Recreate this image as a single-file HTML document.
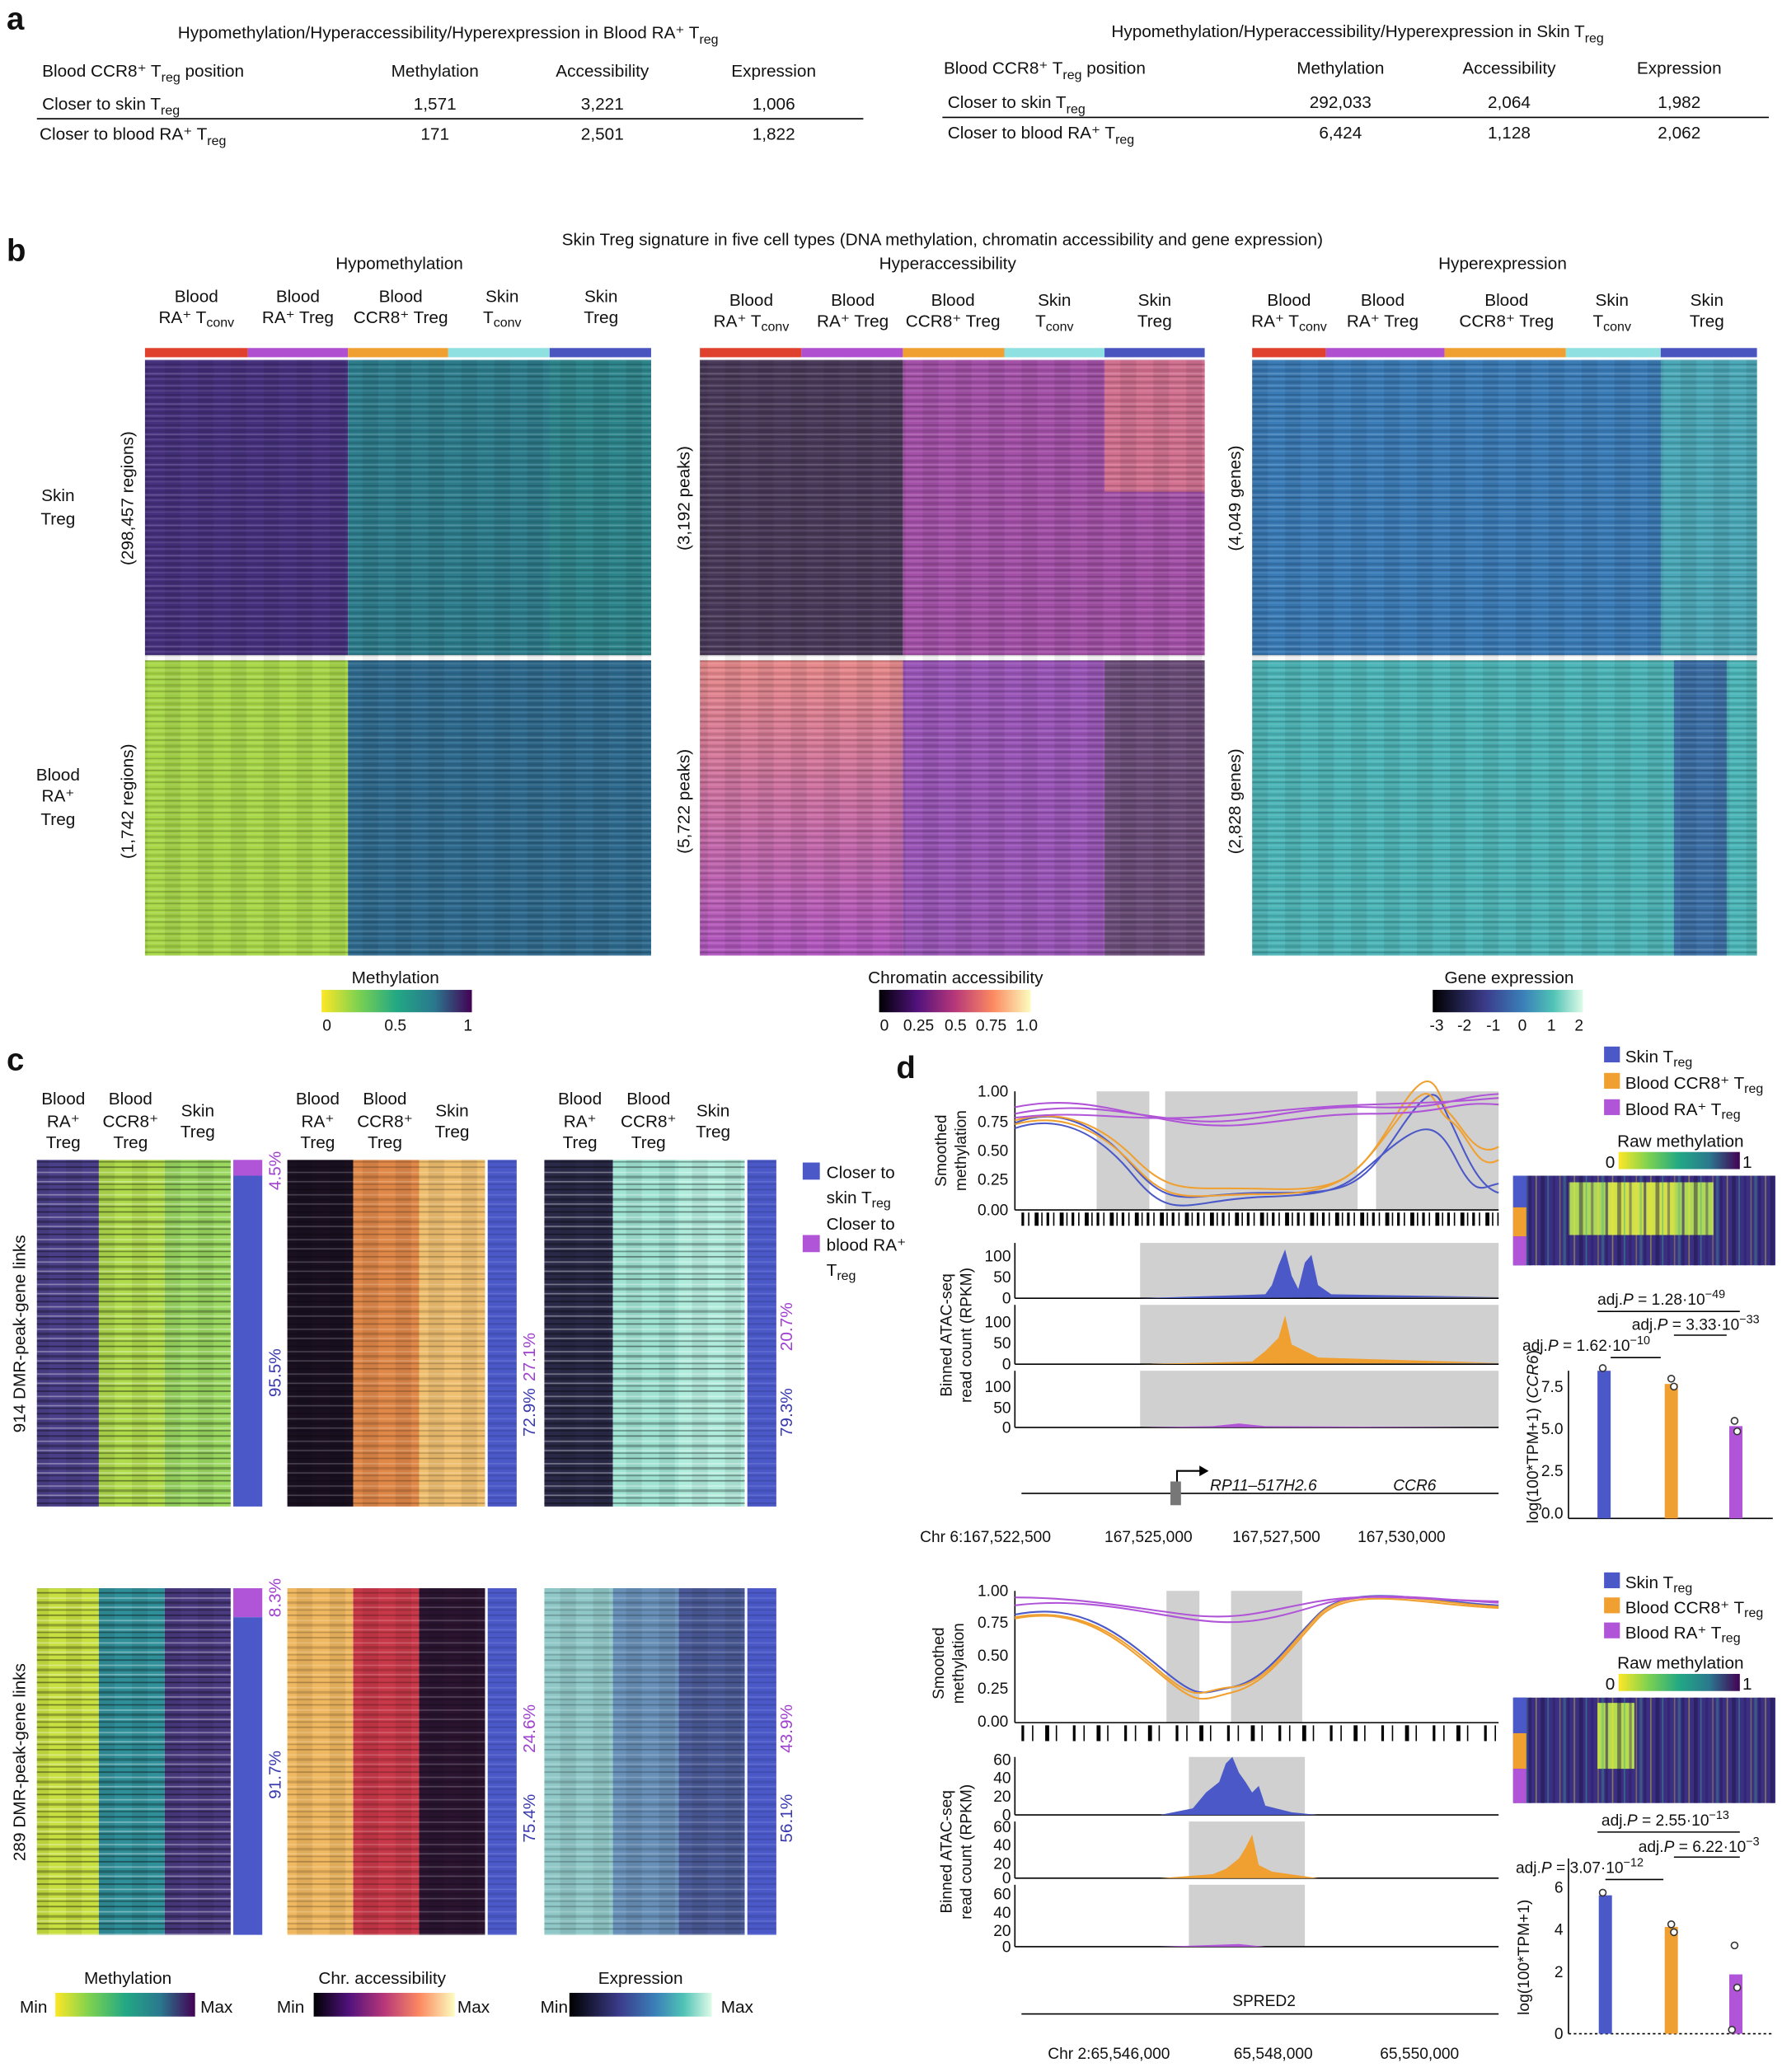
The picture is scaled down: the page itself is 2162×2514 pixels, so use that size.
<!DOCTYPE html>
<html><head><meta charset="utf-8"><style>
html,body{margin:0;padding:0;background:#fff}
svg{display:block}
text{font-family:"Liberation Sans",Arial,sans-serif;fill:#111}
.pu{fill:#a040d0}.bl{fill:#3a3ab0}
</style></head><body>
<svg width="2162" height="2514" viewBox="0 0 1352 1572" xmlns="http://www.w3.org/2000/svg">
<defs>
<pattern id="st" width="40" height="23" patternUnits="userSpaceOnUse">
<rect y="0" width="40" height="1" fill="#000" opacity=".18"/>
<rect y="2" width="40" height="1" fill="#fff" opacity=".12"/>
<rect y="4" width="40" height="2" fill="#000" opacity=".1"/>
<rect y="7" width="40" height="1" fill="#fff" opacity=".18"/>
<rect y="9" width="40" height="1" fill="#000" opacity=".22"/>
<rect y="11" width="40" height="1" fill="#fff" opacity=".1"/>
<rect y="13" width="40" height="2" fill="#000" opacity=".12"/>
<rect y="16" width="40" height="1" fill="#fff" opacity=".15"/>
<rect y="18" width="40" height="1" fill="#000" opacity=".2"/>
<rect y="20" width="40" height="1" fill="#fff" opacity=".1"/>
</pattern>
<pattern id="st2" width="31" height="17" patternUnits="userSpaceOnUse">
<rect y="1" width="31" height="1" fill="#000" opacity=".25"/>
<rect y="5" width="31" height="1" fill="#fff" opacity=".2"/>
<rect y="8" width="31" height="2" fill="#000" opacity=".15"/>
<rect y="12" width="31" height="1" fill="#fff" opacity=".2"/>
<rect y="14" width="31" height="1" fill="#000" opacity=".2"/>
</pattern>
<pattern id="vc" width="25" height="10" patternUnits="userSpaceOnUse">
<rect x="0" width="12" height="10" fill="#000" opacity=".07"/>
</pattern>
<pattern id="vs" width="29" height="10" patternUnits="userSpaceOnUse">
<rect x="0" width="2" height="10" fill="#2a1a60" opacity=".6"/>
<rect x="5" width="1" height="10" fill="#fde725" opacity=".4"/>
<rect x="9" width="3" height="10" fill="#1a1040" opacity=".45"/>
<rect x="14" width="1" height="10" fill="#3aa88a" opacity=".5"/>
<rect x="18" width="2" height="10" fill="#2a1a60" opacity=".4"/>
<rect x="23" width="1" height="10" fill="#fde725" opacity=".3"/>
<rect x="26" width="2" height="10" fill="#3aa88a" opacity=".35"/>
</pattern>
<linearGradient id="gMeth" x1="0" x2="1"><stop offset="0" stop-color="#fde725"/><stop offset=".25" stop-color="#7ad151"/><stop offset=".5" stop-color="#22a884"/><stop offset=".75" stop-color="#2a788e"/><stop offset="1" stop-color="#440154"/></linearGradient>
<linearGradient id="gChr" x1="0" x2="1"><stop offset="0" stop-color="#000004"/><stop offset=".25" stop-color="#51127c"/><stop offset=".5" stop-color="#b73779"/><stop offset=".75" stop-color="#fc8961"/><stop offset="1" stop-color="#fcfdbf"/></linearGradient>
<linearGradient id="gExp" x1="0" x2="1"><stop offset="0" stop-color="#000"/><stop offset=".35" stop-color="#3b3b8a"/><stop offset=".6" stop-color="#3a7fb8"/><stop offset=".8" stop-color="#4fc2b5"/><stop offset="1" stop-color="#dffbe8"/></linearGradient>
<linearGradient id="v1" x1="0" x2="0" y1="0" y2="1"><stop offset="0" stop-color="#e88a8a"/><stop offset="1" stop-color="#b055c0"/></linearGradient>
</defs>

<!-- Panel a -->
<text x="5" y="22" font-size="24" font-weight="bold">a</text>
<g font-size="13">
<text x="340" y="29" text-anchor="middle">Hypomethylation/Hyperaccessibility/Hyperexpression in Blood RA⁺ T<tspan font-size="10" dy="4">reg</tspan></text>
<text x="32" y="58">Blood CCR8⁺ T<tspan font-size="10" dy="4">reg</tspan><tspan dy="-4"> position</tspan></text>
<text x="330" y="58" text-anchor="middle">Methylation</text><text x="457" y="58" text-anchor="middle">Accessibility</text><text x="587" y="58" text-anchor="middle">Expression</text>
<text x="32" y="83">Closer to skin T<tspan font-size="10" dy="4">reg</tspan></text>
<text x="330" y="83" text-anchor="middle">1,571</text><text x="457" y="83" text-anchor="middle">3,221</text><text x="587" y="83" text-anchor="middle">1,006</text>
<line x1="28" y1="90" x2="655" y2="90" stroke="#000"/>
<text x="30" y="106">Closer to blood RA⁺ T<tspan font-size="10" dy="4">reg</tspan></text>
<text x="330" y="106" text-anchor="middle">171</text><text x="457" y="106" text-anchor="middle">2,501</text><text x="587" y="106" text-anchor="middle">1,822</text>

<text x="1030" y="28" text-anchor="middle">Hypomethylation/Hyperaccessibility/Hyperexpression in Skin T<tspan font-size="10" dy="4">reg</tspan></text>
<text x="716" y="56">Blood CCR8⁺ T<tspan font-size="10" dy="4">reg</tspan><tspan dy="-4"> position</tspan></text>
<text x="1017" y="56" text-anchor="middle">Methylation</text><text x="1145" y="56" text-anchor="middle">Accessibility</text><text x="1274" y="56" text-anchor="middle">Expression</text>
<text x="719" y="82">Closer to skin T<tspan font-size="10" dy="4">reg</tspan></text>
<text x="1017" y="82" text-anchor="middle">292,033</text><text x="1145" y="82" text-anchor="middle">2,064</text><text x="1274" y="82" text-anchor="middle">1,982</text>
<line x1="715" y1="89" x2="1342" y2="89" stroke="#000"/>
<text x="719" y="105">Closer to blood RA⁺ T<tspan font-size="10" dy="4">reg</tspan></text>
<text x="1017" y="105" text-anchor="middle">6,424</text><text x="1145" y="105" text-anchor="middle">1,128</text><text x="1274" y="105" text-anchor="middle">2,062</text>
</g>

<!-- Panel b -->
<text x="5" y="198" font-size="24" font-weight="bold">b</text>
<g font-size="13">
<text x="715" y="186" text-anchor="middle">Skin Treg signature in five cell types (DNA methylation, chromatin accessibility and gene expression)</text>
<text x="303" y="204" text-anchor="middle">Hypomethylation</text>
<text x="719" y="204" text-anchor="middle">Hyperaccessibility</text>
<text x="1140" y="204" text-anchor="middle">Hyperexpression</text>
</g>
<g font-size="13" text-anchor="middle">
<text x="149" y="229">Blood</text><text x="149" y="245">RA⁺ T<tspan font-size="10" dy="3">conv</tspan></text>
<text x="226" y="229">Blood</text><text x="226" y="245">RA⁺ Treg</text>
<text x="304" y="229">Blood</text><text x="304" y="245">CCR8⁺ Treg</text>
<text x="381" y="229">Skin</text><text x="381" y="245">T<tspan font-size="10" dy="3">conv</tspan></text>
<text x="456" y="229">Skin</text><text x="456" y="245">Treg</text>
<text x="570" y="232">Blood</text><text x="570" y="248">RA⁺ T<tspan font-size="10" dy="3">conv</tspan></text>
<text x="647" y="232">Blood</text><text x="647" y="248">RA⁺ Treg</text>
<text x="723" y="232">Blood</text><text x="723" y="248">CCR8⁺ Treg</text>
<text x="800" y="232">Skin</text><text x="800" y="248">T<tspan font-size="10" dy="3">conv</tspan></text>
<text x="876" y="232">Skin</text><text x="876" y="248">Treg</text>
<text x="978" y="232">Blood</text><text x="978" y="248">RA⁺ T<tspan font-size="10" dy="3">conv</tspan></text>
<text x="1049" y="232">Blood</text><text x="1049" y="248">RA⁺ Treg</text>
<text x="1143" y="232">Blood</text><text x="1143" y="248">CCR8⁺ Treg</text>
<text x="1223" y="232">Skin</text><text x="1223" y="248">T<tspan font-size="10" dy="3">conv</tspan></text>
<text x="1295" y="232">Skin</text><text x="1295" y="248">Treg</text>
</g>
<g>
<rect x="110" y="264" width="78" height="7" fill="#e0402e"/><rect x="188" y="264" width="76" height="7" fill="#b04fd0"/><rect x="264" y="264" width="76" height="7" fill="#f0a030"/><rect x="340" y="264" width="77" height="7" fill="#8fe0e0"/><rect x="417" y="264" width="77" height="7" fill="#4a55c0"/>
<rect x="531" y="264" width="77" height="7" fill="#e0402e"/><rect x="608" y="264" width="77" height="7" fill="#b04fd0"/><rect x="685" y="264" width="77" height="7" fill="#f0a030"/><rect x="762" y="264" width="76" height="7" fill="#8fe0e0"/><rect x="838" y="264" width="76" height="7" fill="#4a55c0"/>
<rect x="950" y="264" width="56" height="7" fill="#e0402e"/><rect x="1006" y="264" width="90" height="7" fill="#b04fd0"/><rect x="1096" y="264" width="92" height="7" fill="#f0a030"/><rect x="1188" y="264" width="72" height="7" fill="#8fe0e0"/><rect x="1260" y="264" width="73" height="7" fill="#4a55c0"/>
</g>
<rect x="110" y="273" width="154" height="224" fill="#46307e"/>
<rect x="264" y="273" width="230" height="224" fill="#2c7c8c"/>
<rect x="417" y="273" width="77" height="224" fill="#2d8a8a" opacity=".6"/>
<rect x="110" y="501" width="154" height="224" fill="#a8d848"/>
<rect x="264" y="501" width="230" height="224" fill="#2e6a8e"/>
<rect x="110" y="273" width="384" height="452" fill="url(#vc)"/>
<rect x="110" y="273" width="384" height="452" fill="url(#st)"/>
<rect x="531" y="273" width="154" height="224" fill="#4a3a5a"/>
<rect x="685" y="273" width="229" height="224" fill="#a450a8"/>
<rect x="838" y="273" width="76" height="100" fill="#d27090"/>
<rect x="531" y="501" width="154" height="224" fill="url(#v1)"/>
<rect x="685" y="501" width="153" height="224" fill="#9a55b8"/>
<rect x="838" y="501" width="76" height="224" fill="#6a4c78"/>
<rect x="531" y="273" width="383" height="452" fill="url(#vc)"/>
<rect x="531" y="273" width="383" height="452" fill="url(#st)"/>
<rect x="950" y="273" width="383" height="224" fill="#3a7cb8"/>
<rect x="1260" y="273" width="73" height="224" fill="#4aa8b8"/>
<rect x="950" y="501" width="383" height="224" fill="#4cb6b8"/>
<rect x="1270" y="501" width="40" height="224" fill="#3c70a8"/>
<rect x="950" y="273" width="383" height="452" fill="url(#vc)"/>
<rect x="950" y="273" width="383" height="452" fill="url(#st)"/>
<g font-size="13">
<text x="44" y="380" text-anchor="middle">Skin</text><text x="44" y="398" text-anchor="middle">Treg</text>
<text x="44" y="592" text-anchor="middle">Blood</text><text x="44" y="608" text-anchor="middle">RA⁺</text><text x="44" y="626" text-anchor="middle">Treg</text>
<text transform="translate(101,378) rotate(-90)" text-anchor="middle">(298,457 regions)</text>
<text transform="translate(101,608) rotate(-90)" text-anchor="middle">(1,742 regions)</text>
<text transform="translate(523,378) rotate(-90)" text-anchor="middle">(3,192 peaks)</text>
<text transform="translate(523,608) rotate(-90)" text-anchor="middle">(5,722 peaks)</text>
<text transform="translate(941,378) rotate(-90)" text-anchor="middle">(4,049 genes)</text>
<text transform="translate(941,608) rotate(-90)" text-anchor="middle">(2,828 genes)</text>
<text x="300" y="746" text-anchor="middle">Methylation</text>
<text x="725" y="746" text-anchor="middle">Chromatin accessibility</text>
<text x="1145" y="746" text-anchor="middle">Gene expression</text>
</g>
<rect x="244" y="751" width="114" height="17" fill="url(#gMeth)"/>
<rect x="667" y="751" width="115" height="17" fill="url(#gChr)"/>
<rect x="1087" y="751" width="114" height="17" fill="url(#gExp)"/>
<g font-size="12" text-anchor="middle">
<text x="248" y="782">0</text><text x="300" y="782">0.5</text><text x="355" y="782">1</text>
<text x="671" y="782">0</text><text x="697" y="782">0.25</text><text x="725" y="782">0.5</text><text x="752" y="782">0.75</text><text x="779" y="782">1.0</text>
<text x="1090" y="782">-3</text><text x="1111" y="782">-2</text><text x="1133" y="782">-1</text><text x="1155" y="782">0</text><text x="1177" y="782">1</text><text x="1198" y="782">2</text>
</g>

<!-- Panel c -->
<text x="5" y="812" font-size="24" font-weight="bold">c</text>
<g font-size="13" text-anchor="middle">
<text x="48" y="838">Blood</text><text x="48" y="855">RA⁺</text><text x="48" y="871">Treg</text>
<text x="99" y="838">Blood</text><text x="99" y="855">CCR8⁺</text><text x="99" y="871">Treg</text>
<text x="150" y="847">Skin</text><text x="150" y="863">Treg</text>
<text x="241" y="838">Blood</text><text x="241" y="855">RA⁺</text><text x="241" y="871">Treg</text>
<text x="292" y="838">Blood</text><text x="292" y="855">CCR8⁺</text><text x="292" y="871">Treg</text>
<text x="343" y="847">Skin</text><text x="343" y="863">Treg</text>
<text x="440" y="838">Blood</text><text x="440" y="855">RA⁺</text><text x="440" y="871">Treg</text>
<text x="492" y="838">Blood</text><text x="492" y="855">CCR8⁺</text><text x="492" y="871">Treg</text>
<text x="541" y="847">Skin</text><text x="541" y="863">Treg</text>
</g>
<rect x="28" y="880" width="47" height="263" fill="#4a3f88"/>
<rect x="75" y="880" width="50" height="263" fill="#b0dc4c"/>
<rect x="125" y="880" width="50" height="263" fill="#9ad860"/>
<rect x="218" y="880" width="50" height="263" fill="#1a1020"/>
<rect x="268" y="880" width="50" height="263" fill="#e08848"/>
<rect x="318" y="880" width="50" height="263" fill="#f0c070"/>
<rect x="413" y="880" width="52" height="263" fill="#2a2a48"/>
<rect x="465" y="880" width="50" height="263" fill="#a0e4d4"/>
<rect x="515" y="880" width="50" height="263" fill="#b0ecdc"/>
<rect x="28" y="1205" width="47" height="263" fill="#c8e040"/>
<rect x="75" y="1205" width="50" height="263" fill="#30909a"/>
<rect x="125" y="1205" width="50" height="263" fill="#4a3a80"/>
<rect x="218" y="1205" width="50" height="263" fill="#f0b860"/>
<rect x="268" y="1205" width="50" height="263" fill="#c83848"/>
<rect x="318" y="1205" width="50" height="263" fill="#2a1430"/>
<rect x="413" y="1205" width="52" height="263" fill="#90c8c8"/>
<rect x="465" y="1205" width="50" height="263" fill="#6890b8"/>
<rect x="515" y="1205" width="50" height="263" fill="#4a5a98"/>
<g fill="url(#vc)">
<rect x="28" y="880" width="147" height="263"/><rect x="218" y="880" width="150" height="263"/><rect x="413" y="880" width="152" height="263"/>
<rect x="28" y="1205" width="147" height="263"/><rect x="218" y="1205" width="150" height="263"/><rect x="413" y="1205" width="152" height="263"/>
</g>
<g fill="url(#st2)">
<rect x="28" y="880" width="147" height="263"/><rect x="218" y="880" width="150" height="263"/><rect x="413" y="880" width="152" height="263"/>
<rect x="28" y="1205" width="147" height="263"/><rect x="218" y="1205" width="150" height="263"/><rect x="413" y="1205" width="152" height="263"/>
<rect x="28" y="880" width="147" height="263"/><rect x="28" y="1205" width="147" height="263"/><rect x="413" y="880" width="152" height="263"/>
</g>
<rect x="177" y="880" width="22" height="12" fill="#b055d8"/><rect x="177" y="892" width="22" height="251" fill="#4a58c8"/>
<rect x="370" y="880" width="22" height="263" fill="#4a58c8"/>
<rect x="567" y="880" width="22" height="263" fill="#4a58c8"/>
<rect x="370" y="880" width="22" height="263" fill="url(#st2)" opacity=".6"/>
<rect x="567" y="880" width="22" height="263" fill="url(#st2)" opacity=".6"/>
<rect x="177" y="1205" width="22" height="22" fill="#b055d8"/><rect x="177" y="1227" width="22" height="241" fill="#4a58c8"/>
<rect x="370" y="1205" width="22" height="263" fill="#4a58c8"/>
<rect x="567" y="1205" width="22" height="263" fill="#4a58c8"/>
<rect x="370" y="1205" width="22" height="263" fill="url(#st2)" opacity=".6"/>
<rect x="567" y="1205" width="22" height="263" fill="url(#st2)" opacity=".6"/>
<g font-size="13">
<text class="pu" transform="translate(213,903) rotate(-90)">4.5%</text>
<text class="bl" transform="translate(213,1060) rotate(-90)">95.5%</text>
<text class="pu" transform="translate(406,1048) rotate(-90)">27.1%</text>
<text class="bl" transform="translate(406,1090) rotate(-90)">72.9%</text>
<text class="pu" transform="translate(601,1025) rotate(-90)">20.7%</text>
<text class="bl" transform="translate(601,1090) rotate(-90)">79.3%</text>
<text class="pu" transform="translate(213,1227) rotate(-90)">8.3%</text>
<text class="bl" transform="translate(213,1365) rotate(-90)">91.7%</text>
<text class="pu" transform="translate(406,1330) rotate(-90)">24.6%</text>
<text class="bl" transform="translate(406,1398) rotate(-90)">75.4%</text>
<text class="pu" transform="translate(601,1330) rotate(-90)">43.9%</text>
<text class="bl" transform="translate(601,1398) rotate(-90)">56.1%</text>
<text transform="translate(19,1012) rotate(-90)" text-anchor="middle">914 DMR-peak-gene links</text>
<text transform="translate(19,1337) rotate(-90)" text-anchor="middle">289 DMR-peak-gene links</text>
</g>
<rect x="609" y="882" width="13" height="13" fill="#4a58c8"/>
<rect x="609" y="937" width="13" height="13" fill="#b055d8"/>
<g font-size="13"><text x="627" y="894">Closer to</text><text x="627" y="913">skin T<tspan font-size="10" dy="3">reg</tspan></text>
<text x="627" y="933">Closer to</text><text x="627" y="949">blood RA⁺</text><text x="627" y="968">T<tspan font-size="10" dy="3">reg</tspan></text>
<text x="97" y="1505" text-anchor="middle">Methylation</text><text x="290" y="1505" text-anchor="middle">Chr. accessibility</text><text x="486" y="1505" text-anchor="middle">Expression</text>
<text x="15" y="1527">Min</text><text x="152" y="1527">Max</text>
<text x="210" y="1527">Min</text><text x="347" y="1527">Max</text>
<text x="410" y="1527">Min</text><text x="547" y="1527">Max</text></g>
<rect x="42" y="1512" width="106" height="18" fill="url(#gMeth)"/>
<rect x="238" y="1512" width="107" height="18" fill="url(#gChr)"/>
<rect x="432" y="1512" width="108" height="18" fill="url(#gExp)"/>

<!-- Panel d -->
<text x="680" y="818" font-size="24" font-weight="bold">d</text>
<g>
<rect x="832" y="828" width="40" height="90" fill="#d0d0d0"/><rect x="884" y="828" width="146" height="90" fill="#d0d0d0"/><rect x="1044" y="828" width="93" height="90" fill="#d0d0d0"/>
<line x1="770" y1="828" x2="770" y2="918" stroke="#000"/><line x1="770" y1="918" x2="1137" y2="918" stroke="#000"/>
<g font-size="12" text-anchor="end"><text x="765" y="832">1.00</text><text x="765" y="855">0.75</text><text x="765" y="877">0.50</text><text x="765" y="899">0.25</text><text x="765" y="922">0.00</text></g>
<text transform="translate(718,873) rotate(-90)" font-size="12" text-anchor="middle">Smoothed</text>
<text transform="translate(733,873) rotate(-90)" font-size="12" text-anchor="middle">methylation</text>
<g fill="none" stroke-width="1.3">
<path d="M770 852 C800 840 830 850 860 885 S900 905 960 905 S1030 905 1060 860 S1090 830 1100 850 S1120 900 1137 905" stroke="#4a58c8"/>
<path d="M770 856 C800 846 830 855 860 892 S900 910 960 908 S1020 900 1050 875 S1090 850 1105 880 S1125 900 1137 898" stroke="#4a58c8"/>
<path d="M770 850 C800 842 830 848 860 878 S900 900 960 902 S1030 895 1060 845 S1090 835 1100 845 S1120 880 1137 870" stroke="#f0a030"/>
<path d="M770 853 C800 845 830 852 860 884 S900 906 960 906 S1030 890 1060 850 S1085 840 1100 850 S1120 890 1137 880" stroke="#f0a030"/>
<path d="M770 845 C820 835 850 845 900 850 S980 838 1040 840 S1100 832 1137 830" stroke="#b055d8"/>
<path d="M770 840 C820 830 850 845 900 852 S980 845 1040 845 S1100 835 1137 838" stroke="#b055d8"/>
<path d="M770 848 C820 842 850 850 900 848 S980 840 1040 838 S1100 836 1137 833" stroke="#b055d8"/>
</g>
<line x1="775" y1="925" x2="1137" y2="925" stroke="#000" stroke-width="10" stroke-dasharray="2 3 1 4 3 2 1 3"/>
<rect x="865" y="943" width="272" height="42" fill="#d0d0d0"/><rect x="865" y="990" width="272" height="45" fill="#d0d0d0"/><rect x="865" y="1040" width="272" height="43" fill="#d0d0d0"/>
<g stroke="#000"><line x1="770" y1="943" x2="770" y2="985"/><line x1="770" y1="985" x2="1137" y2="985"/><line x1="770" y1="990" x2="770" y2="1035"/><line x1="770" y1="1035" x2="1137" y2="1035"/><line x1="770" y1="1040" x2="770" y2="1083"/><line x1="770" y1="1083" x2="1137" y2="1083"/></g>
<path d="M865 985 L960 982 965 975 970 960 975 948 980 968 985 978 990 958 995 952 1000 975 1010 982 1137 984 Z" fill="#4a58c8"/>
<path d="M865 1035 L950 1033 960 1025 970 1015 975 998 980 1020 990 1025 1000 1030 1137 1034 Z" fill="#f0a030"/>
<path d="M865 1083 L920 1082 940 1080 960 1082 1137 1083 Z" fill="#b055d8"/>
<g font-size="12" text-anchor="end"><text x="767" y="957">100</text><text x="767" y="973">50</text><text x="767" y="989">0</text><text x="767" y="1007">100</text><text x="767" y="1023">50</text><text x="767" y="1039">0</text><text x="767" y="1056">100</text><text x="767" y="1072">50</text><text x="767" y="1087">0</text></g>
<text transform="translate(722,1013) rotate(-90)" font-size="12" text-anchor="middle">Binned ATAC-seq</text>
<text transform="translate(737,1013) rotate(-90)" font-size="12" text-anchor="middle">read count (RPKM)</text>
<line x1="775" y1="1133" x2="1137" y2="1133" stroke="#000"/>
<rect x="888" y="1124" width="8" height="18" fill="#777"/>
<path d="M893 1124 V1116 H912" stroke="#000" fill="none" stroke-width="1.3"/><path d="M910 1112 L917 1116 910 1120Z"/>
<text x="918" y="1131" font-size="12" font-style="italic">RP11–517H2.6</text><text x="1057" y="1131" font-size="12" font-style="italic">CCR6</text>
<g font-size="12"><text x="698" y="1170">Chr 6:167,522,500</text><text x="838" y="1170">167,525,000</text><text x="935" y="1170">167,527,500</text><text x="1030" y="1170">167,530,000</text></g>
</g>
<g font-size="13">
<rect x="1217" y="794" width="12" height="12" fill="#4a58c8"/><text x="1233" y="806">Skin T<tspan font-size="10" dy="3">reg</tspan></text>
<rect x="1217" y="814" width="12" height="12" fill="#f0a030"/><text x="1233" y="826">Blood CCR8⁺ T<tspan font-size="10" dy="3">reg</tspan></text>
<rect x="1217" y="834" width="12" height="12" fill="#b055d8"/><text x="1233" y="846">Blood RA⁺ T<tspan font-size="10" dy="3">reg</tspan></text>
<text x="1275" y="870" text-anchor="middle">Raw methylation</text>
<text x="1218" y="886">0</text><text x="1322" y="886">1</text>
</g>
<rect x="1228" y="874" width="92" height="13" fill="url(#gMeth)"/>
<rect x="1148" y="892" width="199" height="68" fill="#3a2f82"/>
<rect x="1190" y="897" width="110" height="40" fill="#b0d858"/>
<rect x="1220" y="897" width="50" height="40" fill="#e8e840" opacity=".6"/>
<rect x="1148" y="892" width="199" height="68" fill="url(#vs)"/>
<rect x="1148" y="892" width="10" height="24" fill="#4a58c8"/><rect x="1148" y="916" width="10" height="22" fill="#f0a030"/><rect x="1148" y="938" width="10" height="22" fill="#b055d8"/>
<g font-size="12">
<text x="1212" y="990">adj.<tspan font-style="italic">P</tspan> = 1.28·10<tspan font-size="9" dy="-5">−49</tspan></text>
<line x1="1212" y1="995" x2="1320" y2="995" stroke="#000"/>
<text x="1238" y="1009">adj.<tspan font-style="italic">P</tspan> = 3.33·10<tspan font-size="9" dy="-5">−33</tspan></text>
<line x1="1270" y1="1013" x2="1310" y2="1013" stroke="#000"/>
<text x="1155" y="1025">adj.<tspan font-style="italic">P</tspan> = 1.62·10<tspan font-size="9" dy="-5">−10</tspan></text>
<line x1="1222" y1="1030" x2="1260" y2="1030" stroke="#000"/>
</g>
<line x1="1190" y1="1040" x2="1190" y2="1152" stroke="#000"/><line x1="1190" y1="1152" x2="1345" y2="1152" stroke="#000"/>
<g font-size="12" text-anchor="end"><text x="1186" y="1056">7.5</text><text x="1186" y="1088">5.0</text><text x="1186" y="1120">2.5</text><text x="1186" y="1152">0.0</text></g>
<text transform="translate(1167,1090) rotate(-90)" font-size="12" text-anchor="middle">log(100*TPM+1) (<tspan font-style="italic">CCR6</tspan>)</text>
<rect x="1212" y="1040" width="10" height="112" fill="#4a58c8"/><rect x="1263" y="1050" width="10" height="102" fill="#f0a030"/><rect x="1312" y="1082" width="10" height="70" fill="#b055d8"/>
<g fill="#fff" stroke="#333"><circle cx="1216" cy="1038" r="2.5"/><circle cx="1268" cy="1046" r="2.5"/><circle cx="1270" cy="1052" r="2.5"/><circle cx="1316" cy="1078" r="2.5"/><circle cx="1318" cy="1086" r="2.5"/></g>

<rect x="885" y="1207" width="25" height="100" fill="#d0d0d0"/><rect x="934" y="1207" width="54" height="100" fill="#d0d0d0"/>
<line x1="770" y1="1207" x2="770" y2="1307" stroke="#000"/><line x1="770" y1="1307" x2="1137" y2="1307" stroke="#000"/>
<g font-size="12" text-anchor="end"><text x="765" y="1211">1.00</text><text x="765" y="1235">0.75</text><text x="765" y="1260">0.50</text><text x="765" y="1285">0.25</text><text x="765" y="1310">0.00</text></g>
<text transform="translate(716,1262) rotate(-90)" font-size="12" text-anchor="middle">Smoothed</text>
<text transform="translate(731,1262) rotate(-90)" font-size="12" text-anchor="middle">methylation</text>
<g fill="none" stroke-width="1.3">
<path d="M770 1225 C820 1215 850 1240 880 1265 S910 1285 935 1280 S975 1250 1000 1225 S1080 1215 1137 1218" stroke="#4a58c8"/>
<path d="M770 1228 C820 1218 850 1245 880 1270 S910 1290 935 1284 S975 1255 1000 1228 S1080 1218 1137 1220" stroke="#f0a030"/>
<path d="M770 1227 C820 1218 850 1242 880 1268 S910 1282 935 1280 S975 1252 1000 1226 S1080 1216 1137 1219" stroke="#f0a030"/>
<path d="M770 1218 C820 1212 860 1222 900 1228 S960 1230 1000 1218 S1080 1213 1137 1216" stroke="#b055d8"/>
<path d="M770 1212 C820 1212 860 1220 900 1225 S960 1222 1000 1215 S1080 1214 1137 1215" stroke="#b055d8"/>
</g>
<line x1="775" y1="1315" x2="1137" y2="1315" stroke="#000" stroke-width="12" stroke-dasharray="2 6 1 9 3 5 1 12"/>
<rect x="902" y="1333" width="88" height="44" fill="#d0d0d0"/><rect x="902" y="1382" width="88" height="43" fill="#d0d0d0"/><rect x="902" y="1430" width="88" height="47" fill="#d0d0d0"/>
<g stroke="#000"><line x1="770" y1="1333" x2="770" y2="1377"/><line x1="770" y1="1377" x2="1137" y2="1377"/><line x1="770" y1="1382" x2="770" y2="1425"/><line x1="770" y1="1425" x2="1137" y2="1425"/><line x1="770" y1="1430" x2="770" y2="1477"/><line x1="770" y1="1477" x2="1137" y2="1477"/></g>
<path d="M880 1377 L905 1372 915 1360 925 1352 930 1338 935 1333 940 1345 945 1352 950 1360 955 1355 960 1370 980 1375 1000 1377 Z" fill="#4a58c8"/>
<path d="M880 1425 L920 1422 930 1418 940 1410 945 1402 950 1392 955 1415 965 1420 1000 1425 Z" fill="#f0a030"/>
<path d="M880 1477 L940 1475 960 1477 Z" fill="#b055d8"/>
<g font-size="12" text-anchor="end"><text x="767" y="1339">60</text><text x="767" y="1353">40</text><text x="767" y="1367">20</text><text x="767" y="1381">0</text><text x="767" y="1390">60</text><text x="767" y="1404">40</text><text x="767" y="1418">20</text><text x="767" y="1429">0</text><text x="767" y="1441">60</text><text x="767" y="1455">40</text><text x="767" y="1469">20</text><text x="767" y="1481">0</text></g>
<text transform="translate(722,1405) rotate(-90)" font-size="12" text-anchor="middle">Binned ATAC-seq</text>
<text transform="translate(737,1405) rotate(-90)" font-size="12" text-anchor="middle">read count (RPKM)</text>
<line x1="775" y1="1528" x2="1137" y2="1528" stroke="#000"/>
<text x="959" y="1522" font-size="12" text-anchor="middle">SPRED2</text>
<g font-size="12"><text x="795" y="1562">Chr 2:65,546,000</text><text x="936" y="1562">65,548,000</text><text x="1047" y="1562">65,550,000</text></g>
<g font-size="13">
<rect x="1217" y="1193" width="12" height="12" fill="#4a58c8"/><text x="1233" y="1205">Skin T<tspan font-size="10" dy="3">reg</tspan></text>
<rect x="1217" y="1212" width="12" height="12" fill="#f0a030"/><text x="1233" y="1224">Blood CCR8⁺ T<tspan font-size="10" dy="3">reg</tspan></text>
<rect x="1217" y="1231" width="12" height="12" fill="#b055d8"/><text x="1233" y="1243">Blood RA⁺ T<tspan font-size="10" dy="3">reg</tspan></text>
<text x="1275" y="1266" text-anchor="middle">Raw methylation</text>
<text x="1218" y="1282">0</text><text x="1322" y="1282">1</text>
</g>
<rect x="1228" y="1270" width="92" height="13" fill="url(#gMeth)"/>
<rect x="1148" y="1288" width="199" height="80" fill="#3a2f82"/>
<rect x="1212" y="1292" width="28" height="50" fill="#b8dc50"/>
<rect x="1148" y="1288" width="199" height="80" fill="url(#vs)"/>
<rect x="1148" y="1288" width="10" height="27" fill="#4a58c8"/><rect x="1148" y="1315" width="10" height="27" fill="#f0a030"/><rect x="1148" y="1342" width="10" height="26" fill="#b055d8"/>
<g font-size="12">
<text x="1215" y="1385">adj.<tspan font-style="italic">P</tspan> = 2.55·10<tspan font-size="9" dy="-5">−13</tspan></text>
<line x1="1212" y1="1390" x2="1320" y2="1390" stroke="#000"/>
<text x="1243" y="1405">adj.<tspan font-style="italic">P</tspan> = 6.22·10<tspan font-size="9" dy="-5">−3</tspan></text>
<line x1="1270" y1="1409" x2="1320" y2="1409" stroke="#000"/>
<text x="1150" y="1421">adj.<tspan font-style="italic">P</tspan> = 3.07·10<tspan font-size="9" dy="-5">−12</tspan></text>
<line x1="1218" y1="1426" x2="1262" y2="1426" stroke="#000"/>
</g>
<line x1="1190" y1="1410" x2="1190" y2="1543" stroke="#000"/><line x1="1190" y1="1543" x2="1345" y2="1543" stroke="#000" stroke-dasharray="2 2"/>
<g font-size="12" text-anchor="end"><text x="1186" y="1436">6</text><text x="1186" y="1468">4</text><text x="1186" y="1500">2</text><text x="1186" y="1547">0</text></g>
<text transform="translate(1160,1485) rotate(-90)" font-size="12" text-anchor="middle">log(100*TPM+1)</text>
<rect x="1213" y="1438" width="10" height="105" fill="#4a58c8"/><rect x="1263" y="1462" width="10" height="81" fill="#f0a030"/><rect x="1312" y="1498" width="10" height="45" fill="#b055d8"/>
<g fill="#fff" stroke="#333"><circle cx="1216" cy="1436" r="2.5"/><circle cx="1268" cy="1460" r="2.5"/><circle cx="1270" cy="1466" r="2.5"/><circle cx="1316" cy="1476" r="2.5"/><circle cx="1318" cy="1508" r="2.5"/><circle cx="1314" cy="1540" r="2.5"/></g>
</svg>
</body></html>
